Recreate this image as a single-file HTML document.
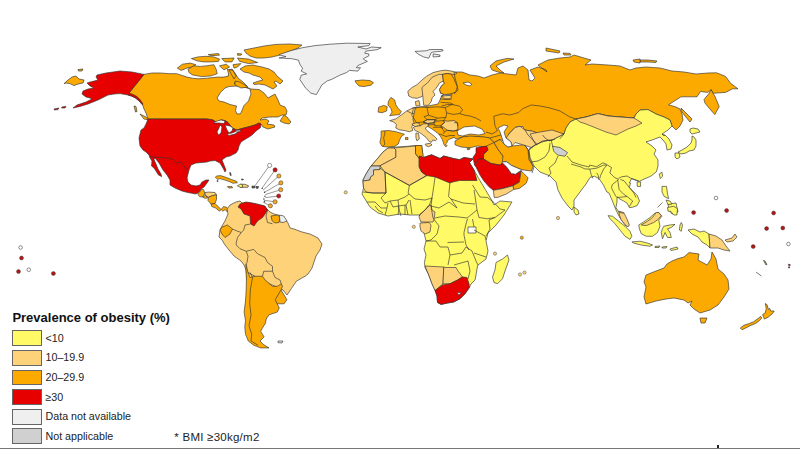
<!DOCTYPE html><html><head><meta charset="utf-8"><style>
html,body{margin:0;padding:0;background:#fff;}
body{width:800px;height:449px;overflow:hidden;position:relative;font-family:"Liberation Sans",sans-serif;}
svg{position:absolute;left:0;top:0;}
polygon{stroke:#333;stroke-width:0.65;stroke-linejoin:round;}
.sw{position:absolute;left:11.5px;width:28.5px;height:13.8px;border:0.8px solid #666;}
.lb{position:absolute;left:45.5px;font-size:10.7px;line-height:14px;color:#222;}
.title{position:absolute;left:12.4px;top:310px;font-size:13px;line-height:16px;font-weight:bold;color:#111;}
.bmi{position:absolute;left:174.3px;top:430px;font-size:11.5px;letter-spacing:0.25px;line-height:14px;color:#222;}
.bl{position:absolute;left:0;top:447.5px;width:800px;height:1.5px;background:#777;}
</style></head><body>
<svg width="800" height="449" viewBox="0 0 800 449">
<polygon points="64,83.6 68,80 72,77 76,76 79,79 84,80 83,83 78,84 74,85.6 70,83.6 66,83" fill="#FDAA00"/>
<polygon points="78,69.6 83,69 82,71 78.4,71" fill="#FDAA00"/>
<polygon points="54,109 59,108 58,109.6 54.4,110" fill="#E60000"/>
<polygon points="62,107 66,106.4 65,108 61.6,108" fill="#E60000"/>
<polygon points="144,74.4 152,73 160,73 170,73.7 176.7,73.7 186.9,77.1 192.5,78.2 198.1,78.8 207.1,78.2 217.2,77.1 224,77.1 228.5,76 228.5,73.7 227.4,69.2 233,70.4 236,76 234,79 229,70 232,69 235,73 238,78 243,82 247,86 240,85 234,83 237.5,85 243.1,85 244,86 251,89 259,89.5 264,93 268,98 275,94 278,100 280,105 285,107 287,111 286,115 282,115 278,117 270,117 262,118 260,120 266,119 269,121 267,124 274,125 275,127 268,129 263,127 261,124 259,123 255,125 248,127 242,128.5 237,130 232,128 228,122.5 225,120.5 221,120 219,121 216,122 213,120 207,119 148,119 147,116 146,113 144,109 143,106 142.5,104.8 139,100.8 135.5,98 131.5,96 128,95 129,93" fill="#FDAA00"/>
<polygon points="134,106 136,106.5 137,111.5 135.5,112" fill="#FDAA00"/>
<polygon points="140,114 146,117 149,120 144,119" fill="#FDAA00"/>
<polygon points="280,121 284,115 287,117 291,122 289,124 284,123" fill="#FDAA00"/>
<polygon points="217,98 220.5,92.5 225,88 229,86.5 237,86 244,87 250,89 251,94 248.5,101 244,105.5 241.75,111 240.5,113.75 237,114 235.5,110.5 236.5,106 230,104.5 224,102 219,101" fill="#FFFFFF"/>
<polygon points="240,69 245,66 253,65 257,66 262,67 269,69 274,72 277,76 283,81 280,84 276,81 274,82 277,86 273,89 269,87 265,85 259,84 254,84.5 253,83 259,81 263,80 260,77 253,75 249,73 244,72" fill="#FDAA00"/>
<polygon points="244,50 254,48 264,46 276,44.4 290,44 302,45 298,48 288,52 280,55 272,57 264,58 256,58 250,56 246,53" fill="#FDAA00"/>
<polygon points="237.5,58 248.7,59.1 257.7,62.5 248.7,63.6 239.7,61.4" fill="#FDAA00"/>
<polygon points="191.4,58.6 198.1,56.9 206,56.3 213.9,56.9 219.5,59.1 218.4,61.4 210.5,61.9 203.7,61.9 197,60.8" fill="#FDAA00"/>
<polygon points="208.2,54.6 218.4,53.5 219.5,55.2 210.5,55.7" fill="#FDAA00"/>
<polygon points="221.7,58.6 234.1,58 231.9,61.9 225.1,61.9" fill="#FDAA00"/>
<polygon points="237.5,53.5 242,54.1 240.9,55.2 237.5,55.2" fill="#FDAA00"/>
<polygon points="177.3,68.1 182.4,64.2 190.2,63.1 195.9,64.7 192.5,67 186.9,68.1 181.2,70.4" fill="#FDAA00"/>
<polygon points="188,69.2 193.6,65.9 200.4,66.4 206,65.9 213.9,64.7 216.1,69.2 217.2,73.7 210.5,76 201.5,76.6 192.5,74.9 189.1,72.6" fill="#FDAA00"/>
<polygon points="219.5,65.9 226.2,64.2 229.6,67 224,69.8" fill="#FDAA00"/>
<polygon points="233,64.7 240.9,63.6 237.5,67 234.1,68.1" fill="#FDAA00"/>
<polygon points="235,81 240,82 248,87 241,88 235,85" fill="#FDAA00"/>
<polygon points="279.1,54.6 291.6,50.4 302.6,47.7 315,45.6 330.2,44.2 346.7,43.2 370.2,43.5 368.8,45.6 357.8,47 366,49 371.6,47 381.2,47.7 377.1,49.7 366,51.1 364.7,53.2 368.8,53.9 368.8,55.9 363.3,58.7 364.7,60.1 367.4,61.4 357.8,65.6 356.4,67.7 360.5,67.7 357.8,71.1 349.5,70.4 346.7,72.5 339.8,75.2 331.6,79.4 327.4,80.8 321.9,84.9 316.4,94.6 310.9,93.2 305.3,87.7 299.8,79.4 301.2,75.2 306.7,73.9 301.2,71.1 302.6,68.3 299.8,64.2 298.4,60.1 291.6,58.7 279.1,58 286,56.6 280.5,55.2" fill="#EFEFEF"/>
<polygon points="355,80.8 358,80.5 362,80 370,80.5 373.5,82.8 371,85.2 364,86.5 359,86 356.5,83.5" fill="#FDAA00"/>
<polygon points="97,75 106,73 120,71 132,72 144,74.4 129,93 133,94.5 137,96.5 140,99.5 143,104 142.5,104.8 139,100.8 135.5,98 131.5,96 128,95 120,93.6 114,94 108,95 104,97 98,100 88,104 80,106.4 73,108 77,105 86,102 92,99 90,98 86,97 82,94 83,91 88,89 94,88 90,86 87,83 92,81.6 98,80 96,77" fill="#E60000"/>
<polygon points="148,119 207,119 213,120 216,122 219,121 221,120 225,120.5 228,122.5 232,128 237,130 242,128.5 248,127 255,125 259,123 261,124 260.5,127.5 260,128 256,131 252,135 249,137 244,140 241,142 239,146 238,150 236,153 230,156 226,157 222,160 224,165 226,170 225,172 223,168 220,163 215,160.5 210,161 207,162 202,162.5 196,163 191,165 189,170 188,174 187,178 188,182 191,185 196,186 200,185 202,182 206,180 209,180 207,183 204,187 201,189 199,192 196,194 188,192.6 182,191 175,188 170,185 170,180 167,175 163,170 159,163 155,158 154,159.5 156,164 158,169 161,174 161.6,176.6 158.5,175 156,171 154,168 151.5,166 152,161 150,158 149,155 146,152 143,150 140,146 139,138 141,130 144,128 146,124" fill="#E60000"/>
<polygon points="213,123 217,121 221,120 225,121 224,123.5 219,123" fill="#FFFFFF"/>
<polygon points="220,125 222,127 221,133 218.5,135 217,132 219,128" fill="#FFFFFF"/>
<polygon points="225,125 230,126 233,128 232,131 229,133 227,130" fill="#FFFFFF"/>
<polygon points="227,134 232,133 237,131 239,131.5 235,134 229,135.5" fill="#FFFFFF"/>
<polygon points="235,130.5 240,130 240.5,131.5 236,132" fill="#FFFFFF"/>
<polygon points="198.6,195.6 197.8,193.3 200.1,191.7 200.9,189.4 203.3,189.4 204.8,192.5 204,195.6 202.5,196.8 200.1,196.8" fill="#FDAA00"/>
<polygon points="204.8,192.5 208.7,192.1 215,192.5 216.5,194.8 212.6,195.6 208.7,197.2 205.6,195.6" fill="#FED278"/>
<polygon points="208.7,197.2 212.6,195.6 216.5,194.8 216.5,199.5 215,203.4 211.1,204.2 207.9,200.3" fill="#FDAA00"/>
<polygon points="202.5,196.8 205.6,195.6 207.9,197.9 204.8,198.3" fill="#FDAA00"/>
<polygon points="211.1,204.2 215,203.4 218.1,206.5 221.2,209.6 219.6,211.2 215.7,208.1 211.8,206.5" fill="#FDAA00"/>
<polygon points="221.2,209.6 223.5,206.5 226.7,207.3 228.2,209.6 227.4,212 225.1,209.6 222.8,211.2" fill="#FDAA00"/>
<polygon points="215.3,177.1 216.8,176 220.6,175.6 225.2,177.1 231.2,179.4 236.5,181.3 237.3,182.8 232.7,183.2 230.5,182 225.2,180.1 219.8,178.6 217.6,179.4" fill="#FDAA00"/>
<polygon points="240.3,184.3 244.8,184.3 248.6,185.8 247.9,187.3 240.3,187.3 242,185.5" fill="#FED278"/>
<polygon points="237.3,185.8 240.3,184.3 242.3,184.3 242.6,187.3 240.3,187.3" fill="#FFFA66"/>
<polygon points="227.4,186.6 232,186.6 232.7,187.7 228.9,188.1" fill="#FDAA00"/>
<polygon points="229.7,172.5 230.6,172.8 231.2,175.6 230.2,175.2" fill="#555"/>
<polygon points="241.5,179 243.5,179.3 243,180 241.5,179.8" fill="#555"/>
<polygon points="252,186 255,186.3 255,187.8 252,188" fill="#555"/>
<polygon points="256,186.5 258.5,186.5 258,188.3 256.3,188.3" fill="#555"/>
<polygon points="217,180.5 218,180.5 217.8,181.6 217,181.4" fill="#FDAA00"/>
<polygon points="227,209 230,205 236,202 240,201 242,203 250,203 258,205 264,206 267,209 270,212 274,214 278,215 283,217 286,220 288,223 290,228 294,229 302,232 310,234 318,238 322,244 320,250 316,256 314,262 312,268 308,274 305,276.25 296.25,281.25 291.25,288.75 287,295 283,290 270,284 251,279 247,280 246,270 244,265 241,261 234,256 229,250 225,245 222,240 219,237 220,230 222,226 225,221 228,214" fill="#FED278"/>
<polygon points="238,207 240,204 246,202 252.5,203 259,204.4 265,206 267.5,210 265,214 262.5,217.5 257.5,221 254,226 250.6,224 250,216 244,214 241,209" fill="#E60000"/>
<polygon points="271,216 277.5,215 280,217.5 279,222.5 275,223 272,220.6" fill="#FDAA00"/>
<polygon points="279.4,215 283.75,216 287,221 283,222.5 280,222" fill="#EFEFEF"/>
<polygon points="222,227 227.5,225 232.5,229 230,234 225,237.5 222,234 220,230" fill="#FDAA00"/>
<polygon points="246,264 248,272.5 250,277.5 255,276.25 262.5,276.25 265,280 272.5,286.25 277.5,286.25 281.25,283.75 282.5,286.25 281,290 286.9,299.7 284.1,303.8 277.2,303.8 279.3,307.9 277.2,312.1 269,314.8 266.2,319 265.5,323.1 262.1,328.6 260.7,331.4 264.1,336.9 260,341 263.4,344.5 269,347.9 260.7,347.9 253.8,345.2 248.3,341 245.5,334.1 244.8,327.2 245.5,320.3 244.1,312.1 245.5,301 246.2,290 246.4,280 246,270" fill="#FDAA00"/>
<polygon points="278,341 283,341 282,343 278,342.6" fill="#EFEFEF"/>
<polygon points="415,51.4 426.3,50.75 430,49.5 442.5,49.5 443.1,50.75 440,51.4 433.1,52 431.25,52.6 428.75,58.25 423.75,57 418.75,54.5" fill="#EFEFEF"/>
<polygon points="433.1,53.9 440,55.1 440,56.4 433.1,57" fill="#EFEFEF"/>
<polygon points="490,66 496,61 507,58.4 514,59 504,62 496,66 500,70 504,73 498,72 492,70" fill="#FDAA00"/>
<polygon points="454,72 462,72 470,75 478,76 484,78 492,75 500,73 508,74 516,75 518,68 523,66 528,70 529,80 532,81 535,78 530,70 538,67 546,70 547,72 538,65 548,60 560,58 570,57 574,55 584,58 591,60 585,65 592,64 608,65 620,66 630,70 636,68 646,67 660,68 672,71 684,72 696,74 708,73 716.6,72.8 725.5,76.4 730.8,83.5 738,88.8 732.6,88.8 725.5,92.4 713,93.3 711.2,89.7 707.7,92.4 700.5,91.5 697,96.8 681,96.8 668.5,104.8 676,107 680,109 682,114 683,120 680,126 676,130 672,126 670,120 664,117 656,114 648,109.6 640,110 636,114 634,118 620,117 608,116 598,113.6 586,117 576,119 570,122 566,128 564,134 555,135 548.75,133.75 542.5,135 532.5,131.25 525,130 520,126.25 515,127.5 508.75,133.75 507.5,142.5 500,139.5 494,142.5 489.5,138 477.5,136.5 462.5,137 456,139 454,137.4 449.8,139.1 447.2,140.8 447.2,142.5 445.5,144.1 447.2,145.8 445.5,146.7 443.8,144.1 443,141.6 442.1,139.1 440.5,136.5 438.8,134 435.4,131.5 432,128.9 427.8,126.4 427,125 420,126 413,124 409,120 412,118 412,108 416,108 420,107 426,106.5 433,105 438,104 440,100 441.5,96 444.3,94.6 440.6,93.2 439.6,89.4 441.5,86.1 444.3,83.3 443.4,81 442.5,74.4 447.1,73.5" fill="#FDAA00"/>
<polygon points="704,99.5 709,93.5 711.2,89.7 713,93.3 714.8,96 719.2,106.6 714.8,114.6 709.4,108.4 705,103.1" fill="#FDAA00"/>
<polygon points="681,108 685,112 692,119 690,122 685,116 682,112" fill="#FDAA00"/>
<polygon points="640,60 648,60 657,61 656,62.4 648,62 640,62" fill="#FDAA00"/>
<polygon points="546,48 560,51 559,53 546,51" fill="#FDAA00"/>
<polygon points="563,53 570,53.4 571,55 564,55" fill="#FDAA00"/>
<polygon points="633,60 640,59 640,63 634,62" fill="#FDAA00"/>
<polygon points="463,83 468,82 472,84 470,86 466,85" fill="#FFFFFF"/>
<polygon points="407.8,91.3 412,87.5 417,84.7 422,80 426.5,76.3 433,72.6 440.6,70.7 446,70.2 452,71.2 457,73 455,74.5 450.9,74 447.1,73.5 442.5,74.4 443.4,81 439.6,82.9 435.9,88.5 433.1,91.3 435,95 432.2,97.8 431.2,101.6 428.4,105.3 423.7,105.3 422.8,96 420.9,96.9 417.2,98.3 412.5,97.8 408.7,96" fill="#FED278"/>
<polygon points="442.5,74.4 447.1,73.5 450.9,74 453.7,78.2 455.6,82.9 457.4,86.6 455.6,92.2 449.9,94.1 444.3,94.6 440.6,93.2 439.6,89.4 441.5,86.1 444.3,83.3 443.4,81" fill="#FDAA00"/>
<polygon points="415.3,101.6 419,100.6 420,105.3 416.2,106.3" fill="#FED278"/>
<polygon points="441.5,96 449,95 451.8,96.9 449.9,98.8 444.3,98.8" fill="#FED278"/>
<polygon points="444.3,94.6 452,94.3 452,95.2 441.5,96" fill="#FFFFFF"/>
<polygon points="388.5,101.1 390.9,97.4 394.6,99.9 395.8,104.8 398.3,108.5 401.3,111.5 399.5,114.6 393.4,115.2 389.7,115.8 392.1,112.1 390.9,108.5 387.9,104.8" fill="#FDAA00"/>
<polygon points="378.7,107.2 383.6,105.4 387.2,106.6 386.6,110.9 382.3,112.7 378.1,112.1" fill="#FDAA00"/>
<polygon points="389.7,120.7 395.8,118.9 401.9,114.6 406.8,110.9 411.7,108.5 415.4,107.2 414.2,113.4 412.9,119.5 414.2,123.2 411.7,126.8 412.9,130.5 409.3,131.7 404.4,130.5 399.5,129.9 395.8,128 396.4,124.4 393.4,121.9" fill="#FED278"/>
<polygon points="411.8,124.2 416.4,122.7 419.4,123.5 420.2,125.8 414.8,126.5" fill="#FED278"/>
<polygon points="423.2,122 427,119.7 435.3,119.7 433.8,122.7 427.7,123.5" fill="#FED278"/>
<polygon points="443.6,120.5 447.4,121.2 454.2,120.5 457.3,122.7 458,129.5 453.5,131.1 447.4,130.3 443.6,127.3 440.6,125.8 444.4,122.7" fill="#FED278"/>
<polygon points="381.1,131.1 388.5,130.5 395.8,131.7 404.4,134.2 401.3,136.6 399.5,140.3 398.3,144 394.6,146.4 387.2,147 382.3,146.4 379.9,142.7 381.1,136.6" fill="#FDAA00"/>
<polygon points="405.5,137.5 408,137.5 408,139.5 405.5,139.5" fill="#FDAA00"/>
<polygon points="414.8,126.5 420.2,125.8 423.2,124 427.7,123.5 429,125 427.8,126.4 425.2,128.1 426.9,130.6 430.3,133.2 434.5,136.5 437,139.1 435.4,140.8 432.8,139.9 431.2,142.5 428.6,140.8 426.1,137.4 422.7,134.8 419.3,132.3 415.1,130.6 413.4,127.2" fill="#FED278"/>
<polygon points="425.2,144.1 430.3,143.3 432,145 428.6,146.7 426.1,145.8" fill="#FED278"/>
<polygon points="415.9,133.2 418.5,133.2 419.3,139.1 416.8,140.8 415.9,137.4" fill="#FED278"/>
<polygon points="455,141 462.5,137 470,136 477.5,136.5 485,137 489.5,138 494,142.5 492.5,146 485,147 477.5,146 470,147.75 461,147 455,144.75" fill="#FDAA00"/>
<polygon points="467,148.5 470,148 469.5,149.5 467.5,149.7" fill="#FDAA00"/>
<polygon points="457,131 464,127 474.5,126 482,129 485,133.5 479,135 470,134 462.5,136 458,135" fill="#FFFFFF"/>
<polygon points="519,127 523,126.5 524,129.5 520,130" fill="#FFFFFF"/>
<polygon points="486.5,146 494,142.5 497,147.75 498.5,150 503,156 504.5,162 503,163.5 500,165 491,163.5 483.5,159 483.5,154.5 488,150" fill="#FDAA00"/>
<polygon points="494,142.5 500,139.5 504,144 508,147 512,146 524,144.75 528.5,150 530,159 533,166.5 531.5,171 521.9,169.8 517.4,168 511.2,165.3 506.7,161.8 502.3,161.8 503,156 498.5,150 497,147.75" fill="#FDAA00"/>
<polygon points="509,134 515,127.5 520,126.25 525,130 532.5,131.25 542.5,135 548.75,133.75 555,135 562.5,133.75 565,135 560,138.75 550,141.25 542.5,141.25 537.5,145 531.25,147.5 523.75,145 515,142.5 512,146 511,142 506,138" fill="#FED278"/>
<polygon points="498,128 504,125 508,126 504,132 506,138 511,142 512,146 508,147 504,144 502,138 500,132" fill="#FFFFFF"/>
<polygon points="529,150 535,145 542.5,141 552.5,140 550,146 545,152.5 541,157.5 534,160 530,157.5" fill="#FFFA66"/>
<polygon points="476,147.75 486.5,146 488,150 483.5,154.5 483.5,159 479,159 476,163.5 474.5,165 473,157.5 476,153" fill="#E60000"/>
<polygon points="388,148 396,147 406,146.4 415.5,145.5 421.7,145.5 422.9,154.8 424.1,157.3 431.5,154.8 440,158.5 443.7,156 453.5,158.5 459.7,159.7 464,157.5 473,159 469.4,162.5 474,170 479,179 485,189 491,199 494,205 500,201 512,202 504,215 496,225 488,233 486,241 488,251 486,259 478,265 477.5,266 476,275 475,280 471,284 469.4,287.5 465,293.75 460,298.75 453.75,302 447.5,303 441,304.4 437.5,302.5 437,296 435,290 432,283.75 428.75,275 425,267.5 424.4,262.5 426,255 424,249 426,241 424,233 426,225 424,219 419,215 410,215 400,214 388,216 378,213 370,207 365,199 362,194 363.5,188 363,181 363,180 366,174 371,166 372,165 378,158 383,152" fill="#FFFA66"/>
<polygon points="388,148 394,148 395.9,149.9 395.9,157.3 380,165.8 380,166 371,166 372,165 378,158 383,152" fill="#FED278"/>
<polygon points="394,148 415.5,146 415.5,153.6 419.2,158.5 419.2,167 421.7,172 426.6,175.6 409.4,185.4 384.9,172 380,165.8 395.9,157.3 395.9,149.9" fill="#FED278"/>
<polygon points="415.5,145.5 421.7,145.5 422.9,154.8 419.2,158.5 415.5,153.6" fill="#FDAA00"/>
<polygon points="419.2,156 424.1,157.3 431.5,154.8 440,158.5 443.7,156 453.5,158.5 453.5,181.8 449.9,183 435.1,176.9 426.6,175.6 421.7,172 419.2,167" fill="#E60000"/>
<polygon points="453.5,158.5 459.7,159.7 464,157.5 473,159 469.4,162.5 474,170 477,180.5 459.7,180.5 453.5,181.8" fill="#E60000"/>
<polygon points="363,180 366,174 371,166 380,166 380,169.5 373.5,170 373.5,175 370.5,177 370,180 363,181" fill="#D0D0D0"/>
<polygon points="363,181 370,180 370.5,177 373.5,175 373.5,170 380,169.5 380,168 385,172 386,193 373,193 366,192 363.5,188" fill="#FED278"/>
<polygon points="420,214 425,210 428,206 431,205 432,210 435,212 434,220 433,222 421,222 419,217" fill="#FED278"/>
<polygon points="420,223 429,222.5 431,225 430,232 425,234 421,231 420,227" fill="#FED278"/>
<polygon points="425,266 443.75,267 443,283.75 435,290.6 432,283.75 428.75,275" fill="#FED278"/>
<polygon points="443.75,267 446,267.5 456,267.5 458,271 462.5,277 457.5,280 450,283.75 443,283.75" fill="#FED278"/>
<polygon points="435,290.6 442.5,285 450,283.75 457.5,280 462.5,276.9 467,277.5 469,283.75 469.4,287.5 465,293.75 460,298.75 453.75,302 447.5,303 441,304.4 437.5,302.5 437,296" fill="#E60000"/>
<polygon points="457.5,292.5 460.6,292.5 460,294.4 458,294.4" fill="#FFFFFF"/>
<polygon points="468,227 476,227 476,233 468,233" fill="#FFFFFF"/>
<polygon points="507.5,255 509,260 505,271 502.5,278.75 497.5,283.75 494,282.5 492.5,277 495,270 496,262.5 502.5,259" fill="#FFFA66"/>
<polygon points="474.5,165 476,163.5 479,159 483.5,159 491,163.5 500,165 502.3,162.7 506.7,167.1 509.4,170.7 511.2,173.4 515.6,174.2 519.2,171.6 521,170.7 520.1,177.8 519.2,182.3 512.9,185.8 503.2,188.5 493.4,190.3 488.9,186.7 483.6,180.5 480,175.1 476,167" fill="#E60000"/>
<polygon points="521,170.7 523.6,173.4 528.1,177.8 526.3,183.2 519.2,188.5 513.8,189.4 512.9,185.8 519.2,182.3 520.1,177.8" fill="#FDAA00"/>
<polygon points="493.4,190.3 503.2,188.5 512.9,185.8 513.8,189.4 506.7,193.8 497.8,197.4 494.2,197.4" fill="#FED278"/>
<polygon points="502.3,161.8 506.7,161.8 511.2,165.3 517.4,168 521.9,169.8 521,170.7 519.2,171.6 515.6,174.2 511.2,173.4 509.4,170.7 506.7,167.1 502.3,162.7" fill="#FFFFFF"/>
<polygon points="529,150 535,145 542.5,141 552.5,140 556,138 564,134 566,128 570,122 576,119 586,117 598,113.6 608,116 620,117 634,118 636,114 640,110 648,109.6 656,114 664,117 670,120 672,126 668,130 662,134 665,135 669,139 672,145 671,149 667,150 666,144 663,140 660,137 652,140 646,142 652,146 656,150 654,154 658,160 658,166 656.4,171.75 650.7,176.25 642.9,179.6 639.5,181.3 635,179.6 631.6,178.5 629.4,183 630.5,183 629.4,187.5 632.7,190.9 637.2,195.4 639.5,201 637.2,205.5 632.7,207.2 629.4,207.7 627.1,203.2 623.7,201 619.2,198.7 617,196.5 617,202.1 615.9,207.7 619.2,212.2 622.6,214.5 626,220 629,226 626,226 620,218 616,210 612,200 609,193 606.9,192 603.5,185.2 599,178.5 594.5,176.25 590,177.4 586,184 580,192 574,200 574,206 572,210 568,206 562,198 558,190 556,182 550,176 540,172 534,166 530,157.5" fill="#FFFA66"/>
<polygon points="576,119 586,117 598,113.6 608,116 620,117 634,118 642,123 636,126 628,129 616,135 606,132 596,128 586,124 580,122" fill="#FED278"/>
<polygon points="530,134 540,132 552,130 564,134 564,134 556,138 552.5,140 542.5,141 536,145" fill="#FED278"/>
<polygon points="552.5,146.25 560,147.5 567.5,152.5 565,156.25 557.5,155 553.75,151.25" fill="#D0D0D0"/>
<polygon points="692,136 694,137 696,140 696,146 694,150 689,151 686,153 681,154 678,152 682,150 687,147 691,143 692,140" fill="#FFFA66"/>
<polygon points="690,129 693,128 698,129 700,132 696,133 692,134 690,132" fill="#FFFA66"/>
<polygon points="675,153 679,153 680,157 677,159 675,157" fill="#FFFA66"/>
<polygon points="659.2,174 662,172.3 662.6,176.25 660.3,178.5" fill="#FFFA66"/>
<polygon points="637.2,181.9 640.6,181.9 640.6,186.4 637.2,186.4" fill="#FFFA66"/>
<polygon points="574,207 578,210 579,214 576,215 574,212" fill="#FFFA66"/>
<polygon points="662,186.4 666.5,186.4 667.6,194.25 668.7,198.7 664.2,196.5 662,192" fill="#FFFA66"/>
<polygon points="668,204 676,203 678,212 672,214 669,210" fill="#FFFA66"/>
<polygon points="618.75,211.25 623.75,212.5 626.9,218.75 629.4,225 627.5,226.9 624.4,223.75 621.25,220 619.4,215" fill="#FED278"/>
<polygon points="608.1,215.6 612.5,216.25 618.75,221.25 625,226.25 630,231.25 631.9,236.25 630,239.4 625,236.25 620,230 615,223.75 610,218.75" fill="#FFFA66"/>
<polygon points="631.9,241.9 640,241.25 647.5,243.1 652.5,245 650,246.25 641.25,245 633.75,243.1" fill="#FFFA66"/>
<polygon points="638.75,225 643.75,221.9 650,217.5 655,213.1 658.75,212.5 661.9,216.25 658.75,220 660,226.25 657.5,232.5 652.5,236.25 646.25,236.25 641.25,233.75 639.4,228.75" fill="#FFFA66"/>
<polygon points="641.25,225 647.5,221.25 652.5,217.5 656.25,212.5 658.75,212.5 661.25,215.6 658.1,219.4 653.75,222.5 646.25,225.6" fill="#FED278"/>
<polygon points="663.75,226.25 670,225 675,224.4 671.25,227.5 667.5,228.75 670,232.5 671.25,237.5 667.5,237.5 665,232.5 662.5,238.75 661.25,232.5 662.5,228.75" fill="#FFFA66"/>
<polygon points="681.25,222.5 682.5,225 681.25,231.25 679.4,230 680,225" fill="#FFFA66"/>
<polygon points="667.5,207.5 673.75,206.25 677.5,208.75 676.9,215 673.75,215 670.6,211.25 668.1,211.25" fill="#FFFA66"/>
<polygon points="666,200 670,201 672,204 668,204.5" fill="#FFFA66"/>
<polygon points="655,246.5 660,246 659,247.5 655,247.5" fill="#FFFA66"/>
<polygon points="662,247 667,246.5 666,248 662,248" fill="#FFFA66"/>
<polygon points="670,249 677,247 678,249 671,250.5" fill="#FFFA66"/>
<polygon points="688,230 694,229 700,232 704,231 709,234 710,248 707,245 702,242 698,237 692,234" fill="#FFFA66"/>
<polygon points="709,234 716,236 722,240 726,246 730,251 724,250 718,248 710,248" fill="#FED278"/>
<polygon points="725,240 732,238 735,234 737,237 733,241 727,242" fill="#FED278"/>
<polygon points="646,275 656,271 664,268 667,264 672,261 678,258.6 684,257 689,252.6 699,254 698,260 707,265 711,259 712,252 716,259 718,269 724,274 728,280 729,289 724,297 718,305 710,310 700,313 694,309 690,305 692,301 688,303 684,300 674,298 666,299 656,301 646,304 644,297 646,287 644,282" fill="#FDAA00"/>
<polygon points="700,318 707,318 705,323 701,323" fill="#FDAA00"/>
<polygon points="765.3,303.5 767.1,304.8 768.4,309.3 769.8,308.4 770.6,311 774.2,311 772.4,313.7 768,317.3 764.4,319.1 762.6,314.6 765.3,312.8 766.2,308.4" fill="#FDAA00"/>
<polygon points="760.8,316.4 761.7,318.2 758.2,321.7 755.5,323.5 751,325.3 745.7,328 742.1,329.8 740.3,328 743.9,325.3 749.3,323.5 753.7,321.7 757.3,319.1" fill="#FDAA00"/>
<polygon points="763.5,260.5 765,261 767,264.5 766,265" fill="#B8B860"/>
<polygon points="788.5,264 790.5,265 789,266" fill="#E60000"/>
<polygon points="788.8,266.5 790,267.5 788.5,268" fill="#E60000"/>
<polyline points="150,156.5 158,157.5 168,158 172,159 176,163 181,162 184,166 187,170" fill="none" stroke="#333" stroke-width="0.65" stroke-linejoin="round"/>
<polyline points="250,272.5 252.5,277.5 250.3,290 249.7,303.8 251,314.8 249,325.9 251.7,334.1 251,341 258,345.2" fill="none" stroke="#333" stroke-width="0.65" stroke-linejoin="round"/>
<polyline points="275.2,299.7 281,290" fill="none" stroke="#333" stroke-width="0.65" stroke-linejoin="round"/>
<polyline points="275.2,299.7 277.2,303.8" fill="none" stroke="#333" stroke-width="0.65" stroke-linejoin="round"/>
<polyline points="250.6,224 245,225 243.75,230 241.25,232.5 237.5,237.5 236.25,242.5 236.25,245 240,248.75 246.25,251.25 253.75,249.4 257.5,253.75 265,257.5 267.5,262.5 272.5,266.25 272.5,271.25" fill="none" stroke="#333" stroke-width="0.65" stroke-linejoin="round"/>
<polyline points="232.5,229 237,231 241.25,232.5" fill="none" stroke="#333" stroke-width="0.65" stroke-linejoin="round"/>
<polyline points="246.25,251.25 248,256.25 247,262.5 246,264" fill="none" stroke="#333" stroke-width="0.65" stroke-linejoin="round"/>
<polyline points="248,272.5 255,276.25" fill="none" stroke="#333" stroke-width="0.65" stroke-linejoin="round"/>
<polyline points="263.75,271.25 272.5,271.25 275,277.5 280,280 281.25,283.75" fill="none" stroke="#333" stroke-width="0.65" stroke-linejoin="round"/>
<polyline points="262.5,276.25 263.75,271.25" fill="none" stroke="#333" stroke-width="0.65" stroke-linejoin="round"/>
<polyline points="267.5,210 266,216 267.5,222.5 272.5,223.75" fill="none" stroke="#333" stroke-width="0.65" stroke-linejoin="round"/>
<polyline points="422.8,96 421.9,87.5 427.5,82.9 432.2,77.2 438.7,74.4 442.5,74.4" fill="none" stroke="#333" stroke-width="0.65" stroke-linejoin="round"/>
<polyline points="406.8,110.9 411.7,113.4 414.2,113.4" fill="none" stroke="#333" stroke-width="0.65" stroke-linejoin="round"/>
<polyline points="384.8,131 384.8,134.2 383.6,137.8 384.8,144 383,146.5" fill="none" stroke="#333" stroke-width="0.65" stroke-linejoin="round"/>
<polyline points="657.5,207.5 662.5,202.5" fill="none" stroke="#333" stroke-width="0.65" stroke-linejoin="round"/>
<polyline points="384.9,172 409.4,185.4 426.6,175.6" fill="none" stroke="#333" stroke-width="0.65" stroke-linejoin="round"/>
<polyline points="385,172 386,193" fill="none" stroke="#333" stroke-width="0.65" stroke-linejoin="round"/>
<polyline points="363,192 373,193 386,193" fill="none" stroke="#333" stroke-width="0.65" stroke-linejoin="round"/>
<polyline points="386,193 381,198 385,203 390,201 398,200 405,197 409,194 408.2,192.8 409.4,185.4" fill="none" stroke="#333" stroke-width="0.65" stroke-linejoin="round"/>
<polyline points="367,202 375,202 381,208 387,208 388,203" fill="none" stroke="#333" stroke-width="0.65" stroke-linejoin="round"/>
<polyline points="375,206 378,210 383,213" fill="none" stroke="#333" stroke-width="0.65" stroke-linejoin="round"/>
<polyline points="387,208 385,215" fill="none" stroke="#333" stroke-width="0.65" stroke-linejoin="round"/>
<polyline points="398,200 399,208 398,215" fill="none" stroke="#333" stroke-width="0.65" stroke-linejoin="round"/>
<polyline points="390,201 393,207 398,206 406,205 409,200" fill="none" stroke="#333" stroke-width="0.65" stroke-linejoin="round"/>
<polyline points="398,206 401,216" fill="none" stroke="#333" stroke-width="0.65" stroke-linejoin="round"/>
<polyline points="405,205 405,215" fill="none" stroke="#333" stroke-width="0.65" stroke-linejoin="round"/>
<polyline points="406,205 408,215" fill="none" stroke="#333" stroke-width="0.65" stroke-linejoin="round"/>
<polyline points="410,200 412,214" fill="none" stroke="#333" stroke-width="0.65" stroke-linejoin="round"/>
<polyline points="409,194 415,199 425,200 432,198" fill="none" stroke="#333" stroke-width="0.65" stroke-linejoin="round"/>
<polyline points="432,198 429,206 423,212 419,216" fill="none" stroke="#333" stroke-width="0.65" stroke-linejoin="round"/>
<polyline points="435.1,176.9 433.9,185.4 432,198" fill="none" stroke="#333" stroke-width="0.65" stroke-linejoin="round"/>
<polyline points="449.9,183 448.6,196.5 451,199 457,208" fill="none" stroke="#333" stroke-width="0.65" stroke-linejoin="round"/>
<polyline points="432,198 431,206 439,208 449,202 457,208" fill="none" stroke="#333" stroke-width="0.65" stroke-linejoin="round"/>
<polyline points="435,218 445,216 459,217 467,218" fill="none" stroke="#333" stroke-width="0.65" stroke-linejoin="round"/>
<polyline points="431,206 433,218" fill="none" stroke="#333" stroke-width="0.65" stroke-linejoin="round"/>
<polyline points="433,218 439,226 437,234 431,240 426,241" fill="none" stroke="#333" stroke-width="0.65" stroke-linejoin="round"/>
<polyline points="451,199 463,203 475,204" fill="none" stroke="#333" stroke-width="0.65" stroke-linejoin="round"/>
<polyline points="474,190 475,196 477,210 467,218" fill="none" stroke="#333" stroke-width="0.65" stroke-linejoin="round"/>
<polyline points="472.5,185 480,197 487.5,197.5 494,202.5 500,209 505,210 495,217.5 487.5,218.75 479,217.5 477,210" fill="none" stroke="#333" stroke-width="0.65" stroke-linejoin="round"/>
<polyline points="495,217.5 489,220 490,229 486,236" fill="none" stroke="#333" stroke-width="0.65" stroke-linejoin="round"/>
<polyline points="467.5,218.75 466,224 464,232.5 464,235 466,245 469,250" fill="none" stroke="#333" stroke-width="0.65" stroke-linejoin="round"/>
<polyline points="474,230 485,236 486,240" fill="none" stroke="#333" stroke-width="0.65" stroke-linejoin="round"/>
<polyline points="472.5,219 474,227" fill="none" stroke="#333" stroke-width="0.65" stroke-linejoin="round"/>
<polyline points="426,241 436,241 440,247 448,247 450,255 448,265" fill="none" stroke="#333" stroke-width="0.65" stroke-linejoin="round"/>
<polyline points="450,255 462,253 466,247 472,251" fill="none" stroke="#333" stroke-width="0.65" stroke-linejoin="round"/>
<polyline points="454,265 468,261" fill="none" stroke="#333" stroke-width="0.65" stroke-linejoin="round"/>
<polyline points="474,253 486,257" fill="none" stroke="#333" stroke-width="0.65" stroke-linejoin="round"/>
<polyline points="472,251 476,261 478,265" fill="none" stroke="#333" stroke-width="0.65" stroke-linejoin="round"/>
<polyline points="468,261 470,271 468,279" fill="none" stroke="#333" stroke-width="0.65" stroke-linejoin="round"/>
<polyline points="464,242 447.5,242.5" fill="none" stroke="#333" stroke-width="0.65" stroke-linejoin="round"/>
<polyline points="413.3,108.3 420.2,106.8 427,107.6 428.5,115.2 424,116.7 427,119.7 423.2,122 416.4,122.7 414.1,118.9 411.8,115.2 413.3,109.1" fill="none" stroke="#333" stroke-width="0.65" stroke-linejoin="round"/>
<polyline points="427,107.6 436.8,106.8 445.2,107.6 446.7,112.9 445.9,117.4 437.6,118.2 428.5,115.2" fill="none" stroke="#333" stroke-width="0.65" stroke-linejoin="round"/>
<polyline points="427,119.7 435.3,119.7 437.6,118.2" fill="none" stroke="#333" stroke-width="0.65" stroke-linejoin="round"/>
<polyline points="435.3,119.7 433.8,122.7 427.7,123.5 423.2,122" fill="none" stroke="#333" stroke-width="0.65" stroke-linejoin="round"/>
<polyline points="445.9,117.4 443.6,120.5 436.8,121.2 435.3,119.7" fill="none" stroke="#333" stroke-width="0.65" stroke-linejoin="round"/>
<polyline points="433.8,122.7 436.8,121.2" fill="none" stroke="#333" stroke-width="0.65" stroke-linejoin="round"/>
<polyline points="443.6,120.5 444.4,122.7 440.6,125.8 435.3,125.8 433.8,122.7" fill="none" stroke="#333" stroke-width="0.65" stroke-linejoin="round"/>
<polyline points="445.2,107.6 452,104.5 459.5,106.1 462.6,109.8 459.5,113.6 453.5,114.4 446.7,112.9" fill="none" stroke="#333" stroke-width="0.65" stroke-linejoin="round"/>
<polyline points="459.5,113.6 465,115.2 470,116 476,118 481,121" fill="none" stroke="#333" stroke-width="0.65" stroke-linejoin="round"/>
<polyline points="440.6,102.3 450.5,103 453.5,104.5" fill="none" stroke="#333" stroke-width="0.65" stroke-linejoin="round"/>
<polyline points="441.4,106.1 447.4,104.5 452,104.5" fill="none" stroke="#333" stroke-width="0.65" stroke-linejoin="round"/>
<polyline points="440,99 447,99.5 452,99" fill="none" stroke="#333" stroke-width="0.65" stroke-linejoin="round"/>
<polyline points="427,125 433.8,124.5 435.3,125.8" fill="none" stroke="#333" stroke-width="0.65" stroke-linejoin="round"/>
<polyline points="433,127.3 440,127.3 443,128.2" fill="none" stroke="#333" stroke-width="0.65" stroke-linejoin="round"/>
<polyline points="440.6,125.8 444.4,131.8 443,134" fill="none" stroke="#333" stroke-width="0.65" stroke-linejoin="round"/>
<polyline points="447.4,130.3 453.5,131.1 458,130" fill="none" stroke="#333" stroke-width="0.65" stroke-linejoin="round"/>
<polyline points="444.4,131.8 447.4,130.3" fill="none" stroke="#333" stroke-width="0.65" stroke-linejoin="round"/>
<polyline points="441,134.5 446,136.5 450,135.5 455,135.5" fill="none" stroke="#333" stroke-width="0.65" stroke-linejoin="round"/>
<polyline points="438.8,134 441,134.5" fill="none" stroke="#333" stroke-width="0.65" stroke-linejoin="round"/>
<polyline points="454,122.7 457.3,122.7 458,126" fill="none" stroke="#333" stroke-width="0.65" stroke-linejoin="round"/>
<polyline points="454,72 455,78 457,85 458,90 454,94" fill="none" stroke="#333" stroke-width="0.65" stroke-linejoin="round"/>
<polyline points="490,138 497,136 501,135" fill="none" stroke="#333" stroke-width="0.65" stroke-linejoin="round"/>
<polyline points="486,132 492,134 497,131" fill="none" stroke="#333" stroke-width="0.65" stroke-linejoin="round"/>
<polyline points="493.75,116.25 502.5,113.75 510,115 518.75,112.5 522.5,108.75 531.25,105 540,106 550,108 560,111 570,117 576,119" fill="none" stroke="#333" stroke-width="0.65" stroke-linejoin="round"/>
<polyline points="497.5,131 495,126 493.75,116.25" fill="none" stroke="#333" stroke-width="0.65" stroke-linejoin="round"/>
<polyline points="564,134 560,138.75" fill="none" stroke="#333" stroke-width="0.65" stroke-linejoin="round"/>
<polyline points="542.5,135 545,138 550,141.25" fill="none" stroke="#333" stroke-width="0.65" stroke-linejoin="round"/>
<polyline points="525,130 528,135 537.5,145" fill="none" stroke="#333" stroke-width="0.65" stroke-linejoin="round"/>
<polyline points="525,145 528,150 529,160 534,167 532,173" fill="none" stroke="#333" stroke-width="0.65" stroke-linejoin="round"/>
<polyline points="550,143 549,151 545,157 538,161 531,162" fill="none" stroke="#333" stroke-width="0.65" stroke-linejoin="round"/>
<polyline points="529,149 537,144 545,141 551,140 555,139" fill="none" stroke="#333" stroke-width="0.65" stroke-linejoin="round"/>
<polyline points="551,140 553,147" fill="none" stroke="#333" stroke-width="0.65" stroke-linejoin="round"/>
<polyline points="558,156 555,163 549,168 551,173 548,177" fill="none" stroke="#333" stroke-width="0.65" stroke-linejoin="round"/>
<polyline points="567,156 572,162 581,165 589,167 589.7,165.1 596.7,166.7 602.9,162.8 606.8,164.4" fill="none" stroke="#333" stroke-width="0.65" stroke-linejoin="round"/>
<polyline points="571,164 581,167 585,169 590.5,169 596.7,168.2 603.7,165.1 607.6,165.1" fill="none" stroke="#333" stroke-width="0.65" stroke-linejoin="round"/>
<polyline points="589.7,169 591.2,174.5 592.8,178.4" fill="none" stroke="#333" stroke-width="0.65" stroke-linejoin="round"/>
<polyline points="596.7,172.9 598.2,175.3 599,180" fill="none" stroke="#333" stroke-width="0.65" stroke-linejoin="round"/>
<polyline points="606.8,165.1 603.7,169 600.6,175.3 599.8,178.4" fill="none" stroke="#333" stroke-width="0.65" stroke-linejoin="round"/>
<polyline points="607.6,165.1 611.5,167.5 609.9,172.9 614.6,177.6 618.5,179.2" fill="none" stroke="#333" stroke-width="0.65" stroke-linejoin="round"/>
<polyline points="618.5,178.4 621.6,176.8 627.1,176 631,178.4 634.9,179.9 638.8,181.5" fill="none" stroke="#333" stroke-width="0.65" stroke-linejoin="round"/>
<polyline points="618.5,179.2 616.2,181.5 612.3,184.6 611.5,187.7 612.5,190 615.9,196.5" fill="none" stroke="#333" stroke-width="0.65" stroke-linejoin="round"/>
<polyline points="620.4,179.6 624,180.7 629.4,187.5 633.9,193.1 636.1,197.6" fill="none" stroke="#333" stroke-width="0.65" stroke-linejoin="round"/>
<polyline points="617.7,180 619.2,189.7 623.7,194.25 627.1,196.5" fill="none" stroke="#333" stroke-width="0.65" stroke-linejoin="round"/>
<polyline points="617,197.6 627.1,196.5 632.7,201 629.4,206.6" fill="none" stroke="#333" stroke-width="0.65" stroke-linejoin="round"/>
<polyline points="619.2,212.2 623.7,213.4" fill="none" stroke="#333" stroke-width="0.65" stroke-linejoin="round"/>
<polyline points="662,134 664,136 665,135" fill="none" stroke="#333" stroke-width="0.65" stroke-linejoin="round"/>
<polyline points="756.1,272.1 761.5,276.1" fill="none" stroke="#333" stroke-width="0.65" stroke-linejoin="round"/>
<circle cx="693.6" cy="212.6" r="2" fill="#B01818" stroke="#333" stroke-width="0.4"/><circle cx="726.6" cy="210.6" r="2" fill="#B01818" stroke="#333" stroke-width="0.4"/><circle cx="773.6" cy="213" r="2" fill="#B01818" stroke="#333" stroke-width="0.4"/><circle cx="766.6" cy="228.6" r="2" fill="#B01818" stroke="#333" stroke-width="0.4"/><circle cx="782.8" cy="228" r="2" fill="#B01818" stroke="#333" stroke-width="0.4"/><circle cx="753.2" cy="246.6" r="2" fill="#B01818" stroke="#333" stroke-width="0.4"/><circle cx="21.5" cy="258" r="2" fill="#B01818" stroke="#333" stroke-width="0.4"/><circle cx="18.5" cy="271.6" r="2" fill="#B01818" stroke="#333" stroke-width="0.4"/><circle cx="53.4" cy="273.5" r="2" fill="#B01818" stroke="#333" stroke-width="0.4"/><circle cx="345.7" cy="192.3" r="1.6" fill="#FED278" stroke="#444" stroke-width="0.5"/><circle cx="413.8" cy="226.8" r="1.6" fill="#FED278" stroke="#444" stroke-width="0.5"/><circle cx="558" cy="218" r="1.6" fill="#FED278" stroke="#444" stroke-width="0.5"/><circle cx="520" cy="274.5" r="1.6" fill="#FED278" stroke="#444" stroke-width="0.5"/><circle cx="524.5" cy="272.6" r="1.6" fill="#FED278" stroke="#444" stroke-width="0.5"/><circle cx="495" cy="253.6" r="1.6" fill="#FED278" stroke="#444" stroke-width="0.5"/><circle cx="521.8" cy="237.7" r="1.6" fill="#FDAA00" stroke="#444" stroke-width="0.5"/><circle cx="716" cy="198" r="1.8" fill="#fff" stroke="#444" stroke-width="0.6"/><circle cx="788.4" cy="244" r="1.8" fill="#fff" stroke="#444" stroke-width="0.6"/><circle cx="20.6" cy="247.5" r="1.8" fill="#fff" stroke="#444" stroke-width="0.6"/><circle cx="28.75" cy="269.75" r="1.8" fill="#fff" stroke="#444" stroke-width="0.6"/><line x1="254.7" y1="186.2" x2="269.6" y2="165.4" stroke="#333" stroke-width="0.5"/><line x1="262.1" y1="188" x2="275.1" y2="169.9" stroke="#333" stroke-width="0.5"/><line x1="263" y1="190.2" x2="278.9" y2="176" stroke="#333" stroke-width="0.5"/><line x1="264.3" y1="192.4" x2="280.9" y2="182.9" stroke="#333" stroke-width="0.5"/><line x1="265.2" y1="194.6" x2="280.7" y2="189.7" stroke="#333" stroke-width="0.5"/><line x1="265.6" y1="197.6" x2="278.7" y2="196" stroke="#333" stroke-width="0.5"/><line x1="263.9" y1="200.3" x2="275.1" y2="201.8" stroke="#333" stroke-width="0.5"/><line x1="263" y1="202" x2="270.4" y2="205.8" stroke="#333" stroke-width="0.5"/><circle cx="262.2" cy="188.4" r="0.7" fill="#333"/><circle cx="264.5" cy="192.3" r="0.7" fill="#333"/><circle cx="265" cy="196.2" r="0.7" fill="#333"/><circle cx="263.9" cy="199" r="0.7" fill="#333"/><circle cx="264.5" cy="201.7" r="0.7" fill="#333"/><circle cx="269.6" cy="165.4" r="2.1" fill="#fff" stroke="#333" stroke-width="0.5"/><circle cx="275.1" cy="169.9" r="2.1" fill="#D01010" stroke="#333" stroke-width="0.5"/><circle cx="278.9" cy="176" r="2.1" fill="#F5A623" stroke="#333" stroke-width="0.5"/><circle cx="280.9" cy="182.9" r="2.1" fill="#F5A623" stroke="#333" stroke-width="0.5"/><circle cx="280.7" cy="189.7" r="2.1" fill="#F5A623" stroke="#333" stroke-width="0.5"/><circle cx="278.7" cy="196" r="2.1" fill="#D01010" stroke="#333" stroke-width="0.5"/><circle cx="275.1" cy="201.8" r="2.1" fill="#F5A623" stroke="#333" stroke-width="0.5"/><circle cx="270.4" cy="205.8" r="2.1" fill="#F5A623" stroke="#333" stroke-width="0.5"/>
</svg>
<div class="title">Prevalence of obesity (%)</div>
<div class="sw" style="top:330.3px;background:#FFFA66"></div><div class="lb" style="top:330.8px">&lt;10</div><div class="sw" style="top:349.8px;background:#FED278"></div><div class="lb" style="top:350.3px">10–19.9</div><div class="sw" style="top:369.5px;background:#FDAA00"></div><div class="lb" style="top:370.0px">20–29.9</div><div class="sw" style="top:389.2px;background:#E60000"></div><div class="lb" style="top:389.7px">≥30</div><div class="sw" style="top:408.9px;background:#EFEFEF"></div><div class="lb" style="top:409.4px">Data not available</div><div class="sw" style="top:428.4px;background:#D0D0D0"></div><div class="lb" style="top:428.9px">Not applicable</div>
<div class="bmi">* BMI ≥30kg/m2</div>
<div class="bl"></div><div style="position:absolute;left:717px;top:445px;width:1.5px;height:3px;background:#222"></div>
</body></html>
